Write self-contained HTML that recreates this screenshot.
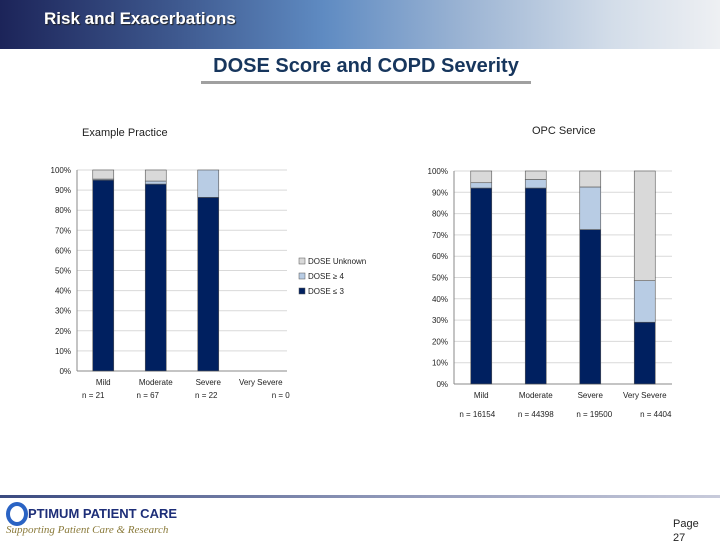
<!DOCTYPE html>
<html><head><meta charset="utf-8"><style>
body{margin:0;width:720px;height:540px;overflow:hidden;background:#fff;font-family:"Liberation Sans",sans-serif;position:relative}
.hdr{position:absolute;left:0;top:0;width:720px;height:49px;background:linear-gradient(90deg,#1c2459 0%,#3f5a90 25%,#5f8bc2 45%,#9db5d4 65%,#d3dde9 85%,#eef0f3 100%)}
.hdr span{position:absolute;left:44px;top:9px;color:#fff;font-weight:bold;font-size:17px;text-shadow:1px 1px 1px #222}
.title{position:absolute;left:200px;top:55px;width:332px;text-align:center;font-size:20px;color:#17365d;font-weight:bold}
.uline{position:absolute;left:201px;top:81px;width:330px;height:3px;background:#a0a0a0}
svg{position:absolute;left:0;top:0}
.foot{position:absolute;left:0;top:495px;width:720px;height:3px;background:linear-gradient(90deg,#3a4a80,#8a93b5,#c8cbdb)}
</style></head><body>
<div class="hdr"><span>Risk and Exacerbations</span></div>
<div class="title">DOSE Score and COPD Severity</div>
<div class="uline"></div>
<div class="foot"></div>
<div style="position:absolute;left:4px;top:502px;width:200px;height:36px">
  <div style="position:absolute;left:2px;top:0;width:14px;height:16px;border:4px solid #2a63c4;border-radius:50%"></div>
  <div style="position:absolute;left:24px;top:4px;font-size:13px;font-weight:bold;color:#1d2e78">PTIMUM PATIENT CARE</div>
  <div style="position:absolute;left:2px;top:22px;font-size:11px;font-style:italic;color:#8a7a3a;font-family:'Liberation Serif',serif">Supporting Patient Care &amp; Research</div>
</div>
<div style="position:absolute;left:673px;top:517px;font-size:11px;color:#222;line-height:14px">Page<br>27</div>
<svg id="s" width="720" height="540"></svg>
<script>
const cats=["Mild","Moderate","Severe","Very Severe"];
const leftLow=[95,93,86.4,0];
const leftHigh=[0.5,1.5,13.6,0];
const leftUnk=[4.5,5.5,0,0];
const leftN=["n = 21","n = 67","n = 22","n = 0"];
const rightLow=[92,92,72.5,29];
const rightHigh=[2.5,4,20,19.5];
const rightUnk=[5.5,4,7.5,51.5];
const rightN=["n = 16154","n = 44398","n = 19500","n = 4404"];
const ticks=[0,10,20,30,40,50,60,70,80,90,100];
const legendLabels=["DOSE Unknown","DOSE \u2265 4","DOSE \u2264 3"];
const cols=["#d9d9d9","#b8cce4","#002060"];
const NS="http://www.w3.org/2000/svg";
const svg=document.getElementById('s');
function el(t,a,txt){const e=document.createElementNS(NS,t);for(const k in a)e.setAttribute(k,a[k]);if(txt!=null)e.textContent=txt;svg.appendChild(e);return e;}
function chart(cfg){
  const y=v=>cfg.y0-(cfg.y0-cfg.y1)*v/100;
  const step=(cfg.x1-cfg.x0)/cats.length;
  const x=i=>cfg.x0+step*(i+0.5);
  ticks.forEach(t=>{
    const g=el('line',{x1:cfg.x0,x2:cfg.x1,y1:y(t),y2:y(t),stroke:t?'#d9d9d9':'#888','stroke-width':1});
    
    
    const l=el('text',{x:cfg.x0-6,y:y(t)+3,'text-anchor':'end','font-size':8,fill:'#222'},t+'%');
    
    
  });
  el('line',{x1:cfg.x0,x2:cfg.x0,y1:cfg.y1,y2:cfg.y0,stroke:'#888'});
  cats.forEach((c,i)=>{
    let base=0;
    [[cfg.low[i],cols[2]],[cfg.high[i],cols[1]],[cfg.unk[i],cols[0]]].forEach(([v,col])=>{
      if(v<=0)return;
      const r=el('rect',{x:x(i)-cfg.bw/2,y:y(base+v),width:cfg.bw,height:y(base)-y(base+v),fill:col,stroke:'#555','stroke-width':0.6});
      
      
      base+=v;
    });
    const t=el('text',{x:x(i),y:cfg.y0+14,'text-anchor':'middle','font-size':8,fill:'#222'},c);
    
    
    const n=el('text',{x:x(i)+cfg.nOff[i],y:cfg.nY,'text-anchor':'middle','font-size':8,fill:'#222'},cfg.n[i]);
    
    
  });
}
chart({x0:77,x1:287,y0:371,y1:170,bw:21,low:leftLow,high:leftHigh,unk:leftUnk,n:leftN,nY:398,nOff:[-10,-8,-2,20]});
chart({x0:454,x1:672,y0:384,y1:171,bw:21,low:rightLow,high:rightHigh,unk:rightUnk,n:rightN,nY:417,nOff:[-4,0,4,11]});
legendLabels.forEach((lab,i)=>{
  const r=el('rect',{x:299,y:258+i*15,width:6,height:6,fill:cols[i],stroke:'#555','stroke-width':0.5});
  
  
  const t=el('text',{x:308,y:264+i*15,'font-size':8,fill:'#222'},lab);
  
  
});
const t1=el('text',{x:82,y:136,'font-size':11,fill:'#222'},'Example Practice');


const t2=el('text',{x:532,y:134,'font-size':11,fill:'#222'},'OPC Service');


</script>
</body></html>
